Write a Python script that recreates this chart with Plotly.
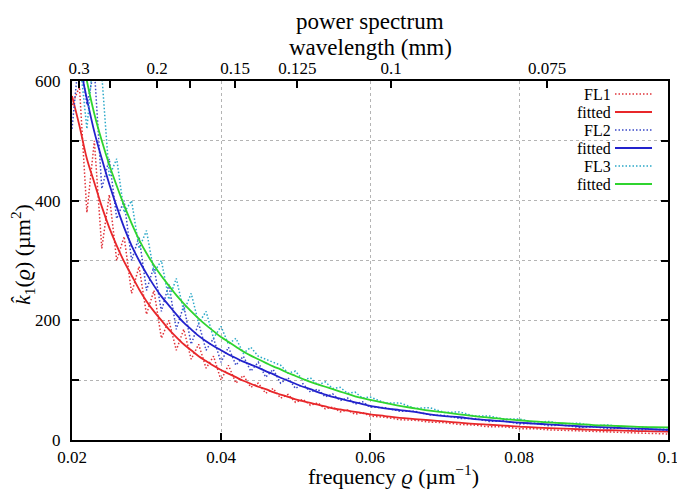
import math
import plotly.graph_objects as go

# ---------------- data ----------------
freq = [0.020, 0.021, 0.022, 0.023, 0.024, 0.025, 0.026, 0.027, 0.028, 0.029,
        0.030, 0.031, 0.032, 0.033, 0.034, 0.035, 0.036, 0.037, 0.038, 0.039,
        0.040, 0.041, 0.042, 0.043, 0.044, 0.045, 0.046, 0.047, 0.048, 0.049,
        0.050, 0.051, 0.052, 0.053, 0.054, 0.055, 0.056, 0.057, 0.058, 0.059,
        0.060, 0.062, 0.064, 0.066, 0.068, 0.070, 0.072, 0.074, 0.076, 0.078,
        0.080, 0.082, 0.084, 0.086, 0.088, 0.090, 0.092, 0.094, 0.096, 0.098,
        0.100]

fl1 = [560, 590, 380, 500, 320, 410, 300, 340, 245, 290,
       210, 250, 170, 200, 150, 185, 135, 160, 120, 140,
       100, 125, 95, 108, 88, 95, 78, 86, 70, 76,
       63, 68, 58, 62, 52, 55, 47, 50, 43, 46,
       40, 38, 34, 33, 30, 29, 26, 25, 22, 22,
       19, 19, 17, 16, 15, 14, 14, 12, 12, 11,
       10]
fit1 = [575, 525, 470, 430, 390, 355, 325, 298, 275, 252,
        232, 215, 200, 185, 172, 160, 150, 140, 132, 124,
        117, 111, 105, 99, 94, 89, 85, 80, 76, 72,
        68, 65, 62, 59, 56, 53, 51, 49, 47, 45,
        43, 40, 37, 35, 33, 31, 29, 27, 25.5, 24,
        22.5, 21, 20, 19, 18, 17, 16.3, 15.7, 15, 14.5,
        14]

fl2 = [520, 650, 560, 620, 420, 470, 370, 400, 300, 340,
       250, 290, 215, 260, 185, 225, 160, 195, 150, 170,
       130, 155, 125, 140, 115, 130, 105, 118, 95, 104,
       86, 94, 80, 85, 72, 77, 66, 70, 60, 64,
       55, 54, 48, 48, 42, 41, 36, 36, 31, 32,
       27, 28, 24, 25, 21, 22, 19, 20, 17, 18,
       16]
fit2 = [700, 630, 570, 515, 470, 428, 390, 355, 325, 300,
        278, 258, 240, 225, 210, 196, 185, 174, 165, 157,
        150, 143, 137, 131, 126, 121, 115, 110, 104, 99,
        94, 89, 85, 80, 76, 72, 69, 66, 63, 60,
        57, 53, 50, 47, 43, 40, 38, 35, 33, 31,
        29, 27.5, 26, 24.5, 23, 22, 21, 20, 19, 18,
        17]

fl3 = [600, 640, 520, 660, 610, 440, 470, 380, 400, 320,
       350, 280, 300, 235, 270, 215, 245, 195, 215, 170,
       190, 160, 170, 145, 155, 140, 135, 130, 125, 112,
       115, 100, 104, 92, 97, 86, 88, 78, 80, 70,
       72, 62, 62, 53, 54, 46, 47, 40, 40, 35,
       35, 30, 31, 27, 28, 24, 25, 22, 22, 20,
       20]
fit3 = [735, 665, 600, 545, 500, 460, 425, 392, 362, 335,
        312, 292, 274, 258, 242, 228, 215, 203, 192, 182,
        172, 164, 156, 148, 141, 135, 129, 123, 118, 112,
        107, 102, 97, 93, 89, 85, 81, 77, 73, 70,
        67, 62, 57, 53, 49, 46, 43, 40, 37.5, 35,
        33, 31, 29.5, 28, 26.5, 25, 24, 23, 22, 21.5,
        21]

# top axis: wavelength in mm (frequency = 2*pi / wavelength[um])
wavelength_mm = [0.3, 0.25, 0.2, 0.175, 0.15, 0.125, 0.1, 0.075]
wavelength_labels = ["0.3", "", "0.2", "", "0.15", "0.125", "0.1", "0.075"]

y_tick_vals = [0, 200, 400, 600]
x_tick_vals = [0.02, 0.04, 0.06, 0.08, 0.1]
x_tick_text = ["0.02", "0.04", "0.06", "0.08", "0.1"]

names = ["FL1", "fitted", "FL2", "fitted", "FL3", "fitted"]

# ---------------- styling ----------------
FONT = "Liberation Serif"
C_RED = "#e8272a"
C_RED_DOT = "#e0343a"
C_BLUE_DOT = "#3a48c8"
C_BLUE = "#2222cc"
C_CYAN_DOT = "#2aa8c8"
C_GREEN = "#2fd42f"
DOT = "1.5px,2px"

series = [
    (fl1, C_RED_DOT, DOT, 1.5),
    (fit1, C_RED, "solid", 1.8),
    (fl2, C_BLUE_DOT, DOT, 1.5),
    (fit2, C_BLUE, "solid", 1.8),
    (fl3, C_CYAN_DOT, DOT, 1.5),
    (fit3, C_GREEN, "solid", 1.8),
]

# page body has an 8px margin, so the figure is offset by 8px
OFF = 8
W, H = 685 - OFF, 491 - OFF
# screen-pixel plot box: left 72, right 668, top 81, bottom 440
L, T = 72 - OFF, 81 - OFF
R = W - (668 - OFF)
B = H - (440 - OFF)
PW, PH = W - L - R, H - T - B


def px_x(p):
    return (p - OFF - L) / PW


def px_y(p):
    return (H - B - (p - OFF)) / PH


fig = go.Figure()
for (vals, col, dash, wid), nm in zip(series, names):
    fig.add_trace(go.Scatter(
        x=freq, y=vals, mode="lines", name=nm,
        line=dict(color=col, dash=dash, width=wid,
                  shape="linear" if dash != "solid" else "spline"),
        showlegend=False, hoverinfo="skip"))

# invisible trace to activate the top axis
top_pos = [2 * math.pi / (w * 1000) for w in wavelength_mm]
fig.add_trace(go.Scatter(x=[freq[0], freq[-1]], y=[0, 0], xaxis="x2",
                         mode="lines", line=dict(width=0), showlegend=False,
                         hoverinfo="skip"))

grid = dict(showgrid=True, gridcolor="#b4b4b4", griddash="dot", gridwidth=1)

fig.update_layout(
    width=W, height=H,
    margin=dict(l=L, r=R, t=T, b=B, pad=0, autoexpand=False),
    paper_bgcolor="white", plot_bgcolor="white",
    font=dict(family=FONT, size=17, color="black"),
    xaxis=dict(range=[0.02, 0.1], tickvals=x_tick_vals, ticktext=x_tick_text,
               ticks="inside", ticklen=7, tickwidth=1.5, tickcolor="black",
               showline=True, linecolor="black", linewidth=2, mirror=True,
               zeroline=False, ticklabelstandoff=1, automargin=False,
               **grid),
    xaxis2=dict(range=[0.02, 0.1], overlaying="x", side="top",
                tickvals=top_pos, ticktext=wavelength_labels,
                ticks="inside", ticklen=7, tickwidth=1.5, tickcolor="black",
                showline=False, showgrid=False, zeroline=False,
                ticklabelstandoff=3, automargin=False),
    yaxis=dict(range=[0, 600], tickvals=y_tick_vals,
               ticks="inside", ticklen=7, tickwidth=1.5, tickcolor="black",
               showline=True, linecolor="black", linewidth=2, mirror="ticks",
               zeroline=False, ticklabelstandoff=6, automargin=False,
               minor=dict(dtick=100, ticks="inside", ticklen=7,
                          tickcolor="black", showgrid=True,
                          gridcolor="#b4b4b4", griddash="dot"),
               **grid),
)

# titles
fig.add_annotation(text="power spectrum", xref="paper", yref="paper",
                   x=px_x(370), y=px_y(21), showarrow=False,
                   font=dict(size=23), xanchor="center", yanchor="middle")
fig.add_annotation(text="wavelength (mm)", xref="paper", yref="paper",
                   x=px_x(370), y=px_y(47), showarrow=False,
                   font=dict(size=23), xanchor="center", yanchor="middle")
fig.add_annotation(text="frequency <i>ϱ</i> (µm<sup>−1</sup>)",
                   xref="paper", yref="paper", x=px_x(393), y=px_y(475),
                   showarrow=False, font=dict(size=22),
                   xanchor="center", yanchor="middle")
fig.add_annotation(text="<i>k̂</i><sub>1</sub>(<i>ϱ</i>) (µm<sup>2</sup>)",
                   xref="paper", yref="paper", x=px_x(22), y=px_y(255),
                   showarrow=False, font=dict(size=22), textangle=-90,
                   xanchor="center", yanchor="middle")

# custom legend (text right-aligned, sample to the right)
legend_rows = [94, 112, 130, 148, 166, 184]
for (vals, col, dash, wid), nm, ry in zip(series, names, legend_rows):
    fig.add_annotation(text=nm, xref="paper", yref="paper",
                       x=px_x(613), y=px_y(ry), showarrow=False,
                       xanchor="right", yanchor="middle",
                       font=dict(size=16), height=17)
    fig.add_shape(type="line", xref="paper", yref="paper",
                  x0=px_x(615), x1=px_x(652), y0=px_y(ry), y1=px_y(ry),
                  line=dict(color=col, dash=dash, width=wid))

fig.write_html("out.html")
